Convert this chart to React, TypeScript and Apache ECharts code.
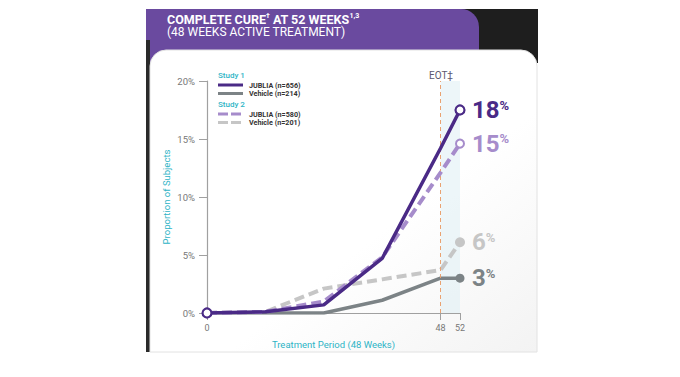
import React, { useEffect, useRef } from "react";
import * as echarts from "echarts";

const weeks = [0, 12, 24, 36, 48, 52];
const jubliaStudy1 = [0, 0.1, 0.7, 4.7, 14.2, 17.5];
const vehicleStudy1 = [0, 0, 0, 1.1, 3.0, 3.0];
const jubliaStudy2 = [0, 0.1, 1.0, 4.8, 12.1, 14.6];
const vehicleStudy2 = [0, 0.1, 2.1, 2.9, 3.7, 6.1];
const finalLabels = ["18", "3", "15", "6"];
const seriesNames = ["JUBLIA (n=656)", "Vehicle (n=214)", "JUBLIA (n=580)", "Vehicle (n=201)"];
const studyNames = ["Study 1", "Study 2"];
const xTicks = [0, 48, 52];
const yTicks = [0, 5, 10, 15, 20];

const FONT = "Roboto, 'Open Sans', sans-serif";
const C_PURPLE = "#4a2a86";
const C_LPURPLE = "#a68ccb";
const C_DGRAY = "#7c8386";
const C_LGRAY = "#c6c6c6";
const C_TEAL = "#2db4c6";

export default function App() {
  const ref = useRef<HTMLDivElement>(null);
  useEffect(() => {
    if (!ref.current) return;
    const chart = echarts.init(ref.current, null, { renderer: "svg" });

    const mk = (vals: number[], endStyle: any) =>
      vals.map((v, i) => {
        const isEnd = i === vals.length - 1;
        return {
          value: [weeks[i], v],
          symbol: isEnd ? "circle" : "none",
          symbolSize: isEnd ? endStyle.size : 0,
          itemStyle: isEnd ? endStyle.item : undefined,
        };
      });

    const endLabel = (text: string, color: string) => ({
      show: true,
      distance: 12,
      formatter: () => `{n|${text}}{p|%}`,
      rich: {
        n: { fontSize: 24, fontWeight: "bold", color, fontFamily: FONT },
        p: { fontSize: 13, fontWeight: "bold", color, fontFamily: FONT, padding: [0, 0, 10, 0] },
      },
    });

    const colors = [C_PURPLE, C_DGRAY, C_LPURPLE, C_LGRAY];
    const dashed = [false, false, true, true];

    const legendGraphics: any[] = [];
    const legendTops = [75, 104];
    studyNames.forEach((s, si) => {
      const top = legendTops[si];
      legendGraphics.push({
        type: "text",
        x: 218,
        y: top,
        style: { text: s, fill: C_TEAL, font: `500 8px ${FONT}`, textVerticalAlign: "middle" },
      });
      [0, 1].forEach((k) => {
        const idx = si * 2 + k;
        const y = top + 10 + k * 8.5;
        legendGraphics.push({
          type: "line",
          shape: { x1: 218, y1: y, x2: 243, y2: y },
          style: {
            stroke: colors[idx],
            lineWidth: 3,
            lineDash: dashed[idx] ? [10, 3] : null,
          },
        });
        legendGraphics.push({
          type: "text",
          x: 249,
          y,
          style: {
            text: seriesNames[idx],
            fill: "#333",
            font: `bold 7.2px ${FONT}`,
            textVerticalAlign: "middle",
          },
        });
      });
    });

    chart.setOption({
      animation: false,
      backgroundColor: "#ffffff",
      grid: { left: 207, top: 81, right: 220, bottom: 64 },
      xAxis: {
        type: "value",
        min: 0,
        max: 52,
        name: "Treatment Period (48 Weeks)",
        nameLocation: "middle",
        nameGap: 26,
        nameTextStyle: { color: C_TEAL, fontSize: 9.5, fontFamily: FONT },
        axisLine: { lineStyle: { color: "#a0a0a0", width: 1.2 } },
        axisTick: { show: true, customValues: xTicks, length: 7, lineStyle: { color: "#a0a0a0" } },
        axisLabel: { customValues: xTicks, color: "#777", fontSize: 9, fontFamily: FONT, margin: 10 },
        splitLine: { show: false },
      },
      yAxis: {
        type: "value",
        min: 0,
        max: 20,
        interval: 5,
        name: "Proportion of Subjects",
        nameLocation: "middle",
        nameGap: 36,
        nameTextStyle: { color: C_TEAL, fontSize: 9.5, fontFamily: FONT },
        axisLine: { show: true, lineStyle: { color: "#a0a0a0", width: 1.2 } },
        axisTick: { show: true, length: 8, lineStyle: { color: "#a0a0a0" } },
        axisLabel: {
          formatter: (v: number) => (yTicks.includes(v) ? `${v}%` : ""),
          color: "#777",
          fontSize: 9.5,
          fontFamily: FONT,
          margin: 12,
        },
        splitLine: { show: false },
      },
      graphic: [
        { type: "rect", z: -20, shape: { x: 147, y: 9, width: 391, height: 54 }, style: { fill: "#1e1e1e" } },
        { type: "rect", z: -19, shape: { x: 146, y: 9, width: 333, height: 54, r: [0, 18, 0, 0] }, style: { fill: "#6a4a9f" } },
        { type: "rect", z: -19, shape: { x: 146, y: 40, width: 4, height: 312 }, style: { fill: "#2a2a2a" } },
        {
          type: "rect",
          z: -18,
          shape: { x: 150, y: 50, width: 387, height: 302, r: [16, 16, 0, 0] },
          style: {
            fill: new echarts.graphic.LinearGradient(0, 0, 1, 1, [
              { offset: 0, color: "#ffffff" },
              { offset: 0.6, color: "#ffffff" },
              { offset: 1, color: "#f3f3f3" },
            ]),
            stroke: "#e2e2e2",
            lineWidth: 1,
          },
        },
        {
          type: "text",
          x: 167,
          y: 19,
          z: -10,
          style: {
            text: "{t|COMPLETE CURE}{s|†}{t| AT 52 WEEKS}{s|1,3}",
            textVerticalAlign: "middle",
            rich: {
              t: { fill: "#fff", font: `bold 12.5px ${FONT}`, lineHeight: 14 },
              s: { fill: "#fff", font: `bold 7px ${FONT}`, lineHeight: 14, padding: [0, 0, 7, 0] },
            },
          },
        },
        {
          type: "text",
          x: 167,
          y: 32,
          z: -10,
          style: { text: "(48 WEEKS ACTIVE TREATMENT)", fill: "#fff", font: `12px ${FONT}`, textVerticalAlign: "middle" },
        },
        {
          type: "text",
          x: 441,
          y: 75,
          z: 5,
          style: { text: "EOT‡", fill: "#5c5870", font: `10px ${FONT}`, textAlign: "center", textVerticalAlign: "middle" },
        },
        ...legendGraphics,
      ],
      series: [
        {
          name: seriesNames[3],
          type: "line",
          z: 3,
          data: mk(vehicleStudy2, { size: 10, item: { color: C_LGRAY } }),
          lineStyle: { color: C_LGRAY, width: 4, type: [10, 5] },
          itemStyle: { color: C_LGRAY },
          endLabel: endLabel(finalLabels[3], C_LGRAY),
          markArea: {
            silent: true,
            itemStyle: { color: "rgba(222,238,244,0.55)" },
            data: [[{ xAxis: 48 }, { xAxis: 52 }]],
          },
          markLine: {
            silent: true,
            symbol: "none",
            label: { show: false },
            lineStyle: { color: "#e9a271", type: [4, 3], width: 1 },
            data: [{ xAxis: 48 }],
          },
        },
        {
          name: seriesNames[1],
          type: "line",
          z: 4,
          data: mk(vehicleStudy1, { size: 9, item: { color: C_DGRAY } }),
          lineStyle: { color: C_DGRAY, width: 3.5 },
          itemStyle: { color: C_DGRAY },
          endLabel: endLabel(finalLabels[1], C_DGRAY),
        },
        {
          name: seriesNames[2],
          type: "line",
          z: 5,
          data: mk(jubliaStudy2, {
            size: 8,
            item: { color: "#fff", borderColor: C_LPURPLE, borderWidth: 2 },
          }),
          lineStyle: { color: C_LPURPLE, width: 4, type: [10, 5] },
          itemStyle: { color: C_LPURPLE },
          endLabel: endLabel(finalLabels[2], C_LPURPLE),
        },
        {
          name: seriesNames[0],
          type: "line",
          z: 6,
          data: jubliaStudy1.map((v, i) => {
            const isMarked = i === 0 || i === jubliaStudy1.length - 1;
            return {
              value: [weeks[i], v],
              symbol: isMarked ? "circle" : "none",
              symbolSize: isMarked ? 9 : 0,
              itemStyle: isMarked ? { color: "#fff", borderColor: C_PURPLE, borderWidth: 2.2 } : undefined,
            };
          }),
          lineStyle: { color: C_PURPLE, width: 3.5 },
          itemStyle: { color: C_PURPLE },
          endLabel: endLabel(finalLabels[0], C_PURPLE),
        },
      ],
    });
    return () => chart.dispose();
  }, []);

  return (
    <div style={{ position: "fixed", left: 0, top: 0, width: 680, height: 377, background: "#fff" }}>
      <div style={{ position: "absolute", left: 0, top: 0, width: 680, height: 3, background: "linear-gradient(90deg,#f3e8c4,#e6d49c,#f3e8c4)" }} />
      <div ref={ref} style={{ width: 680, height: 377 }} />
    </div>
  );
}
